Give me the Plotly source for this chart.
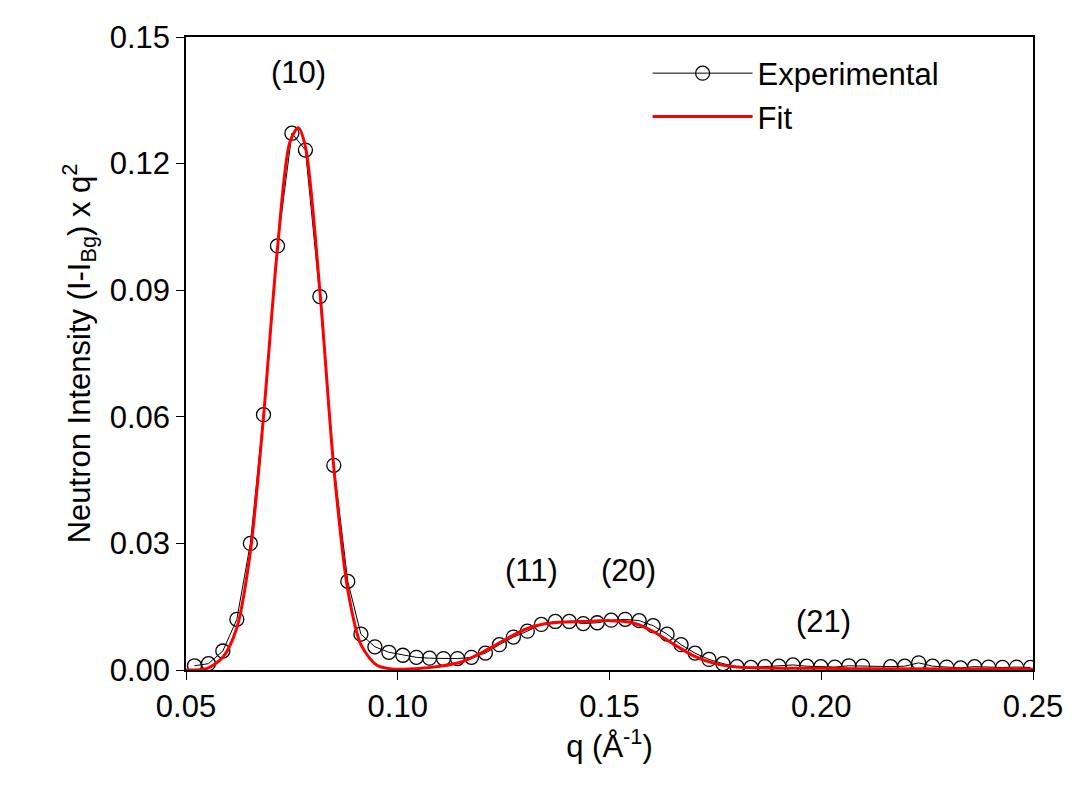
import plotly.graph_objects as go

q_exp = [0.052,0.0553,0.0587,0.0620,0.0652,0.0683,0.0716,0.0750,0.0782,0.0816,0.0849,0.0882,0.0913,0.0946,0.0979,0.1012,0.1044,0.1075,
         0.1108,0.1141,0.1174,0.1207,0.1240,0.1273,0.1306,0.1339,0.1372,0.1405,0.1438,0.1471,0.1504,0.1537,0.1570,0.1603,0.1636,0.1669,0.1702,0.1735,0.1768,
         0.1801,0.1834,0.1867,0.1900,0.1933,0.1966,0.1999,0.2032,0.2065,0.2098,0.2164,0.2197,0.2230,0.2263,0.2296,0.2329,0.2362,0.2395,0.2428,0.2461,0.2494]
i_exp = [0.0010,0.0015,0.0045,0.0120,0.0300,0.0605,0.1005,0.1272,0.1232,0.0885,0.0485,0.0210,0.0085,0.0055,0.0042,0.0035,0.0030,0.0028,
         0.0027,0.0027,0.0030,0.0040,0.0060,0.0078,0.0092,0.0108,0.0115,0.0115,0.0110,0.0112,0.0118,0.0120,0.0117,0.0105,0.0085,0.0060,0.0040,0.0025,0.0015,
         0.0008,0.0006,0.0008,0.0009,0.0012,0.0009,0.0008,0.0007,0.0010,0.0009,0.0008,0.0009,0.0017,0.0009,0.0007,0.0005,0.0008,0.0007,0.0006,0.0007,0.0006]

q_fit = [0.05,0.055,0.0587,0.062,0.0652,0.0683,0.0716,0.0745,0.0765,0.0782,0.0816,0.0849,0.0882,0.0913,0.095,0.099,0.104,0.11,0.115,0.12,0.125,0.13,0.135,0.14,0.145,0.15,0.155,0.16,0.165,0.17,0.175,0.18,0.19,0.20,0.21,0.25]
i_fit = [0.0,0.0004,0.003,0.010,0.028,0.060,0.100,0.125,0.1285,0.124,0.090,0.048,0.019,0.006,0.0012,0.0002,0.0003,0.0009,0.0019,0.0042,0.0070,0.0096,0.0110,0.0114,0.0115,0.0117,0.0113,0.0093,0.0062,0.0033,0.0015,0.0007,0.0004,0.0004,0.0003,0.0002]

labels = ["(10)","(11)","(20)","(21)"]
label_q = [0.0765,0.1315,0.1545,0.2005]
label_y = [0.1415,0.0236,0.0236,0.0115]

font = "Liberation Sans, Arial, sans-serif"
fs = 31
fig = go.Figure()
fig.add_trace(go.Scatter(x=q_exp, y=i_exp, mode="lines+markers", name="Experimental",
    line=dict(color="black", width=1),
    marker=dict(symbol="circle-open", size=14, color="black", line=dict(width=1.3))))
fig.add_trace(go.Scatter(x=q_fit, y=i_fit, mode="lines", name="Fit", line=dict(color="#ff0000", width=3, shape="spline", smoothing=0.8)))
for t, x, y in zip(labels, label_q, label_y):
    fig.add_annotation(x=x, y=y, text=t, showarrow=False, font=dict(size=fs, color="black", family=font))

axis = dict(showline=True, linecolor="black", linewidth=1.5, mirror=True, ticks="outside", ticklen=8,
            tickcolor="black", showgrid=False, zeroline=False, tickfont=dict(size=fs, family=font, color="black"))
fig.update_layout(
    width=1075, height=796, plot_bgcolor="white", paper_bgcolor="white",
    margin=dict(l=178, r=50, t=20, b=134),
    font=dict(family=font, color="black"),
    xaxis=dict(range=[0.05,0.25], tickvals=[0.05,0.10,0.15,0.20,0.25], tickformat=".2f",
               title=dict(text="q (Å<sup>-1</sup>)", font=dict(size=fs), standoff=4), **axis),
    yaxis=dict(range=[0,0.15], tickvals=[0,0.03,0.06,0.09,0.12,0.15], ticktext=["0.00","0.03","0.06","0.09","0.12","0.15"],
               title=dict(text="Neutron Intensity (I-I<sub>Bg</sub>) x q<sup>2</sup>", font=dict(size=fs), standoff=10), **axis),
    legend=dict(x=0.545, y=0.985, xanchor="left", yanchor="top", font=dict(size=fs, family=font),
                bgcolor="rgba(0,0,0,0)", itemwidth=100),
    showlegend=True,
)
fig.write_html("out.html")
